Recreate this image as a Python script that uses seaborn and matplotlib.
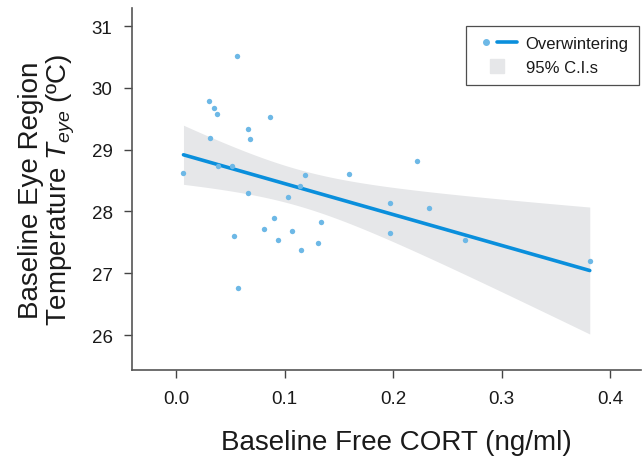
import numpy as np
import pandas as pd
import seaborn as sns
import matplotlib.pyplot as plt
from matplotlib.lines import Line2D
from matplotlib.legend_handler import HandlerTuple

# baseline free CORT (ng/ml) vs baseline eye region temperature (C)
cort = [0.0557, 0.0299, 0.0348, 0.0378, 0.0867, 0.0664, 0.0677, 0.0308,
        0.0068, 0.0387, 0.0511, 0.0659, 0.1028, 0.1187, 0.1138, 0.1596,
        0.0899, 0.0809, 0.1067, 0.1338, 0.0530, 0.0938, 0.1148, 0.1310,
        0.0566, 0.2220, 0.1969, 0.2328, 0.1969, 0.2657, 0.3810]
t_eye = [30.52, 29.78, 29.68, 29.57, 29.53, 29.34, 29.18, 29.19,
         28.63, 28.74, 28.73, 28.30, 28.24, 28.59, 28.41, 28.61,
         27.90, 27.71, 27.69, 27.83, 27.61, 27.54, 27.37, 27.49,
         26.76, 28.82, 28.14, 28.06, 27.65, 27.54, 27.20]

x_ticks = [0.0, 0.1, 0.2, 0.3, 0.4]
y_ticks = [26, 27, 28, 29, 30, 31]

df = pd.DataFrame({'cort': cort, 't_eye': t_eye})

sns.set_style('ticks')
plt.rcParams['font.family'] = ['Liberation Sans', 'DejaVu Sans']
plt.rcParams['mathtext.fontset'] = 'custom'
plt.rcParams['mathtext.it'] = 'Liberation Sans:italic'
plt.rcParams['mathtext.rm'] = 'Liberation Sans'
plt.rcParams['text.color'] = '#1a1a1a'
plt.rcParams['axes.labelcolor'] = '#1a1a1a'
plt.rcParams['xtick.labelcolor'] = '#1a1a1a'
plt.rcParams['ytick.labelcolor'] = '#1a1a1a'

point_col = '#6db8e6'
line_col = '#0a8fdc'
band_col = '#e6e7e9'

fig = plt.figure(figsize=(6.44, 4.60), dpi=100)
ax = fig.add_axes([0.205, 0.193, 0.79, 0.787])

# analytic 95% CI for the OLS fit
x = np.array(cort)
y = np.array(t_eye)
n = len(x)
b1, b0 = np.polyfit(x, y, 1)
resid = y - (b0 + b1 * x)
s = np.sqrt((resid ** 2).sum() / (n - 2))
sxx = ((x - x.mean()) ** 2).sum()
xs = np.linspace(x.min(), x.max(), 200)
half = 2.045 * s * np.sqrt(1 / n + (xs - x.mean()) ** 2 / sxx)
fit = b0 + b1 * xs
ax.fill_between(xs, fit - half, fit + half, color=band_col, lw=0, zorder=1)

sns.regplot(data=df, x='cort', y='t_eye', ax=ax, ci=None,
            scatter_kws={'s': 15, 'color': point_col, 'linewidths': 0,
                         'alpha': 1, 'zorder': 3},
            line_kws={'color': line_col, 'lw': 2.6, 'zorder': 2})

ax.set_xlim(-0.0406, 0.428)
ax.set_ylim(25.43, 31.29)
ax.set_xticks(x_ticks)
ax.set_xticklabels([f'{v:.1f}' for v in x_ticks])
ax.set_yticks(y_ticks)
ax.tick_params(labelsize=13.5, length=6, width=1, color='#444444', pad=8)
for side in ['top', 'right']:
    ax.spines[side].set_visible(False)
for side in ['left', 'bottom']:
    ax.spines[side].set_color('#555555')
    ax.spines[side].set_linewidth(1.2)

ax.set_xlabel('Baseline Free CORT (ng/ml)', fontsize=20)
ax.set_ylabel('Baseline Eye Region\nTemperature $T_{eye}$ (ºC)', fontsize=20,
              linespacing=1.05)
ax.xaxis.set_label_coords(0.519, -0.162)
ax.yaxis.set_label_coords(-0.108, 0.5)

dot = Line2D([], [], marker='o', ls='none', color=point_col, markersize=4)
ln = Line2D([], [], color=line_col, lw=2.6)
sq = Line2D([], [], marker='s', ls='none', color=band_col, markersize=10.5)
leg = ax.legend([(dot, ln), sq], ['Overwintering', '95% C.I.s'],
                handler_map={tuple: HandlerTuple(ndivide=None, pad=0.1)},
                loc='upper right', bbox_to_anchor=(0.996, 0.952),
                borderaxespad=0,
                fontsize=12, frameon=True, fancybox=False,
                handlelength=2.5, handletextpad=0.5,
                borderpad=0.6, labelspacing=0.55)
leg.get_frame().set_edgecolor('#222222')
leg.get_frame().set_linewidth(0.9)

fig.savefig('out.png', dpi=100)
